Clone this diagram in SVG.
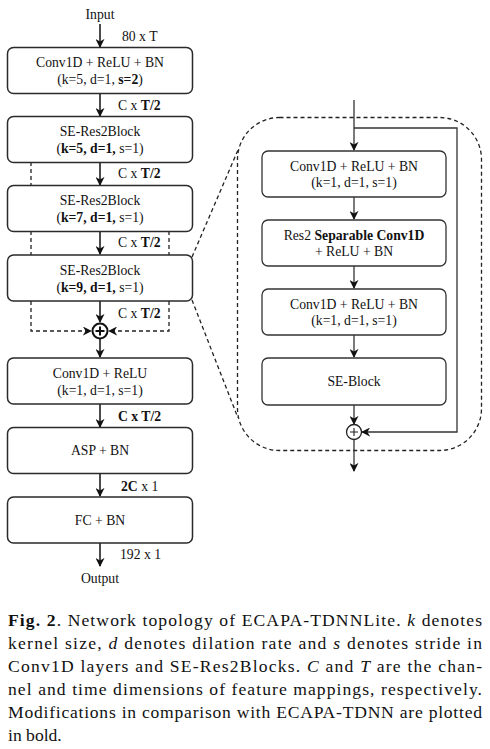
<svg xmlns="http://www.w3.org/2000/svg" width="490" height="749" viewBox="0 0 490 749">
<defs>
<marker id="ah" viewBox="0 0 10 10" refX="9" refY="5" markerWidth="9" markerHeight="9" markerUnits="userSpaceOnUse" orient="auto">
<path d="M0,0 L10,5 L0,10 L3,5 z" fill="#111"/>
</marker>
<style>
text{font-family:"Liberation Serif","Times New Roman",serif;fill:#111}
.t{font-size:13.7px;text-anchor:middle}
.l{font-size:13.7px}
.b{font-weight:bold}
.box{fill:#fff;stroke:#2a2a2a;stroke-width:1.5}
.ibox{fill:#fff;stroke:#333;stroke-width:1.3}
.ln{fill:none;stroke:#111;stroke-width:1.5}
.iln{fill:none;stroke:#333;stroke-width:1.3}
.ds{fill:none;stroke:#222;stroke-width:1.3;stroke-dasharray:4,3}
.cap{font-size:17.6px}
</style>
</defs>

<g id="connectors">
<path class="ln" d="M100,24 V47" marker-end="url(#ah)"/>
<path class="ln" d="M100,94 V116" marker-end="url(#ah)"/>
<path class="ln" d="M100,162 V185" marker-end="url(#ah)"/>
<path class="ln" d="M100,231 V254" marker-end="url(#ah)"/>
<path class="ln" d="M100,301 V322" marker-end="url(#ah)"/>
<path class="ln" d="M100,339 V357" marker-end="url(#ah)"/>
<path class="ln" d="M100,404 V427" marker-end="url(#ah)"/>
<path class="ln" d="M100,473 V496" marker-end="url(#ah)"/>
<path class="ln" d="M100,543 V566" marker-end="url(#ah)"/>
<path class="ds" d="M31,162 V186"/>
<path class="ds" d="M31,231 V255"/>
<path class="ds" d="M31,301 V331 H91" marker-end="url(#ah)"/>
<path class="ds" d="M169,231 V255"/>
<path class="ds" d="M169,301 V331 H109" marker-end="url(#ah)"/>
<path class="ds" d="M192,257 L238,150"/>
<path class="ds" d="M192,300 L238,418"/>
<path class="iln" d="M354,100 V150" marker-end="url(#ah)"/>
<path class="iln" d="M354,128 H457 V432 H362" marker-end="url(#ah)"/>
<path class="iln" d="M354,197 V219" marker-end="url(#ah)"/>
<path class="iln" d="M354,266 V288" marker-end="url(#ah)"/>
<path class="iln" d="M354,335 V357" marker-end="url(#ah)"/>
<path class="iln" d="M354,405 V424" marker-end="url(#ah)"/>
<path class="iln" d="M354,440 V471" marker-end="url(#ah)"/>
</g>

<g id="labels">
<text class="t" x="100" y="19">Input</text>
<text class="l" x="122" y="41">80 x T</text>
<text class="l" x="118" y="110">C x <tspan class="b">T/2</tspan></text>
<text class="l" x="118" y="178">C x <tspan class="b">T/2</tspan></text>
<text class="l" x="118" y="247">C x <tspan class="b">T/2</tspan></text>
<text class="l" x="118" y="318">C x <tspan class="b">T/2</tspan></text>
<text class="l b" x="118" y="421">C x T/2</text>
<text class="l" x="121" y="491"><tspan class="b">2C</tspan> x 1</text>
<text class="l" x="120" y="559">192 x 1</text>
<text class="t" x="100" y="583">Output</text>
</g>

<g id="conv1">
<rect class="box" x="7.5" y="47.5" width="185" height="46" rx="6"/>
<text class="t" x="100" y="67">Conv1D + ReLU + BN</text>
<text class="t" x="100" y="84">(k=5, d=1, <tspan class="b">s=2</tspan>)</text>
</g>
<g id="seres1">
<rect class="box" x="7.5" y="116.5" width="185" height="46" rx="6"/>
<text class="t" x="100" y="136">SE-Res2Block</text>
<text class="t" x="100" y="153">(<tspan class="b">k=5, d=1,</tspan> s=1)</text>
</g>
<g id="seres2">
<rect class="box" x="7.5" y="185.5" width="185" height="46" rx="6"/>
<text class="t" x="100" y="205">SE-Res2Block</text>
<text class="t" x="100" y="222">(<tspan class="b">k=7, d=1,</tspan> s=1)</text>
</g>
<g id="seres3">
<rect class="box" x="7.5" y="255" width="185" height="46" rx="6"/>
<text class="t" x="100" y="274.5">SE-Res2Block</text>
<text class="t" x="100" y="291.5">(<tspan class="b">k=9, d=1,</tspan> s=1)</text>
</g>
<g id="sum1">
<circle cx="100" cy="331" r="7.5" fill="#fff" stroke="#111" stroke-width="2"/>
<path d="M95.5,331 H104.5 M100,326.5 V335.5" stroke="#111" stroke-width="2"/>
</g>
<g id="conv2">
<rect class="box" x="7.5" y="358" width="185" height="46" rx="6"/>
<text class="t" x="100" y="377.5">Conv1D + ReLU</text>
<text class="t" x="100" y="394.5">(k=1, d=1, s=1)</text>
</g>
<g id="asp">
<rect class="box" x="7.5" y="427.5" width="185" height="46" rx="6"/>
<text class="t" x="100" y="455">ASP + BN</text>
</g>
<g id="fc">
<rect class="box" x="7.5" y="497" width="185" height="46" rx="6"/>
<text class="t" x="100" y="524.5">FC + BN</text>
</g>

<g id="panel">
<rect x="237.5" y="117.5" width="244" height="333" rx="42" fill="none" stroke="#222" stroke-width="1.3" stroke-dasharray="4,3"/>
</g>
<g id="iconv1">
<rect class="ibox" x="262" y="151" width="184" height="46" rx="6"/>
<text class="t" x="354" y="170.5">Conv1D + ReLU + BN</text>
<text class="t" x="354" y="186.5">(k=1, d=1, s=1)</text>
</g>
<g id="ires2">
<rect class="ibox" x="262" y="220" width="184" height="46" rx="6"/>
<text class="t" x="354" y="239.5">Res2 <tspan class="b">Separable Conv1D</tspan></text>
<text class="t" x="354" y="255.5">+ ReLU + BN</text>
</g>
<g id="iconv2">
<rect class="ibox" x="262" y="289" width="184" height="46" rx="6"/>
<text class="t" x="354" y="308.5">Conv1D + ReLU + BN</text>
<text class="t" x="354" y="324.5">(k=1, d=1, s=1)</text>
</g>
<g id="iseblock">
<rect class="ibox" x="262" y="358" width="184" height="47" rx="6"/>
<text class="t" x="354" y="386">SE-Block</text>
</g>
<g id="sum2">
<circle cx="354" cy="432" r="7.5" fill="#fff" stroke="#222" stroke-width="1.3"/>
<path d="M350,432 H358 M354,428 V436" stroke="#222" stroke-width="1.1"/>
</g>

<g id="caption">
<text class="cap" x="8" y="626" textLength="474" lengthAdjust="spacing"><tspan class="b">Fig. 2</tspan>. Network topology of ECAPA-TDNNLite. <tspan font-style="italic">k</tspan> denotes</text>
<text class="cap" x="8" y="649" textLength="474" lengthAdjust="spacing">kernel size, <tspan font-style="italic">d</tspan> denotes dilation rate and <tspan font-style="italic">s</tspan> denotes stride in</text>
<text class="cap" x="8" y="672" textLength="474" lengthAdjust="spacing">Conv1D layers and SE-Res2Blocks. <tspan font-style="italic">C</tspan> and <tspan font-style="italic">T</tspan> are the chan-</text>
<text class="cap" x="8" y="695" textLength="474" lengthAdjust="spacing">nel and time dimensions of feature mappings, respectively.</text>
<text class="cap" x="8" y="718" textLength="474" lengthAdjust="spacing">Modifications in comparison with ECAPA-TDNN are plotted</text>
<text class="cap" x="8" y="741">in bold.</text>
</g>
</svg>
